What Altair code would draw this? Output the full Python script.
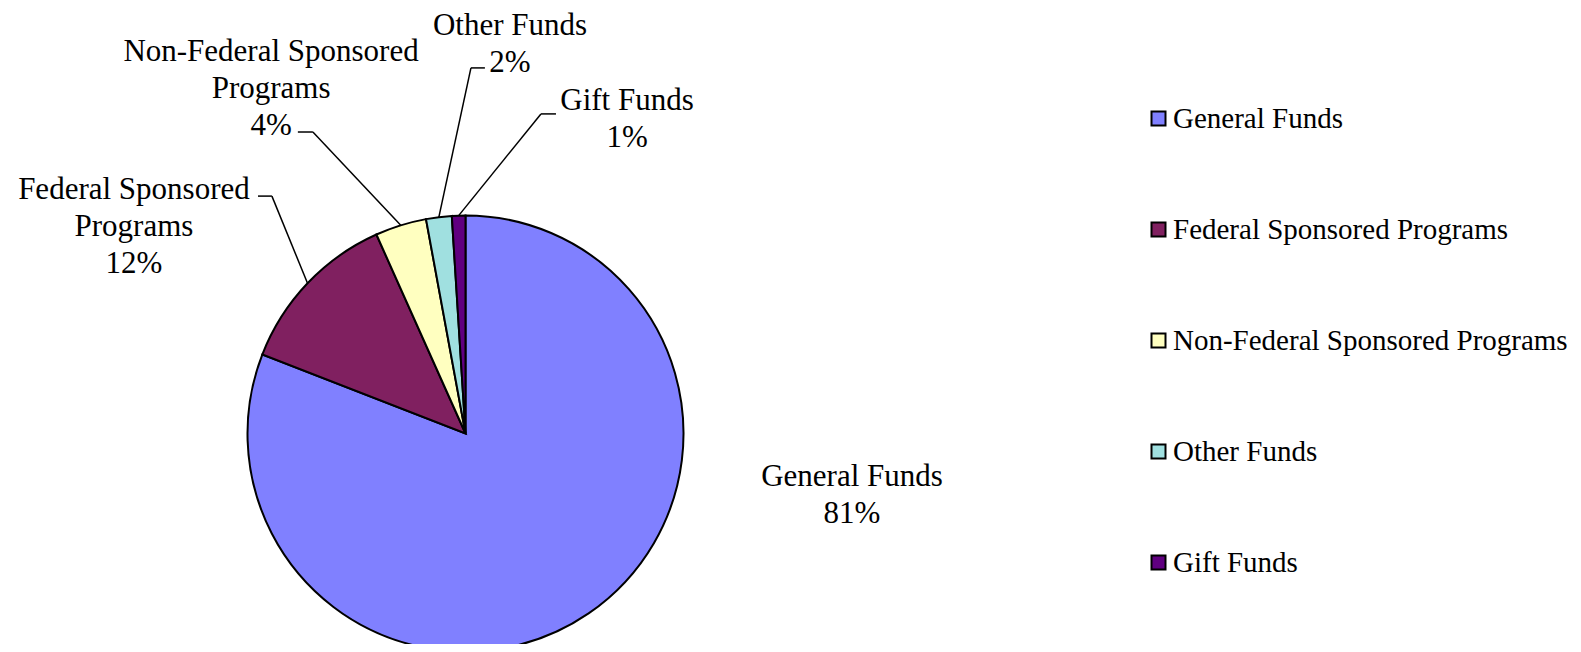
import math
import altair as alt
import pandas as pd

# ---------------- data ----------------
categories = [
    "General Funds",
    "Federal Sponsored Programs",
    "Non-Federal Sponsored Programs",
    "Other Funds",
    "Gift Funds",
]
shares = [80.9, 12.4, 3.8, 1.9, 1.0]
label_names = [
    "General Funds",
    "Federal Sponsored\nPrograms",
    "Non-Federal Sponsored\nPrograms",
    "Other Funds",
    "Gift Funds",
]
colors = ["#8080FF", "#802060", "#FFFFC0", "#A0E0E0", "#600080"]

# ---------------- layout ----------------
MARGIN = 8
W, H = 1565, 636
CX, CY, R = 465.5, 433.5, 218.0  # pie centre (page px) and radius (px)

# label first-line centres, in pie-radius units relative to the pie centre
label_pos = {
    "General Funds": (1.773, -0.1995),
    "Federal Sponsored Programs": (-1.521, 1.117),
    "Non-Federal Sponsored Programs": (-0.892, 1.750),
    "Other Funds": (0.204, 1.868),
    "Gift Funds": (0.741, 1.525),
}
# leader-line knee (x, y) and horizontal tail length, radius units
knees = {
    "Federal Sponsored Programs": (-0.888, 1.089, -0.064),
    "Non-Federal Sponsored Programs": (-0.700, 1.383, -0.069),
    "Other Funds": (0.025, 1.677, 0.064),
    "Gift Funds": (0.346, 1.466, 0.069),
}

total = sum(shares)
rows, lab_rows, seg_rows = [], [], []
cum = 0.0
for i, (cat, s, nm) in enumerate(zip(categories, shares, label_names)):
    mid = (cum + s / 2) / total * 2 * math.pi
    cum += s
    ex, ey = math.sin(mid), math.cos(mid)
    rows.append({"category": cat, "share": s, "idx": i, "cx": 0.0, "cy": 0.0})
    lx, ly = label_pos[cat]
    lab_rows.append({"x": lx, "y": ly, "label": f"{nm}\n{round(s)}%"})
    if cat in knees:
        kx, ky, tail = knees[cat]
        seg_rows.append({"x": ex, "y": ey, "x2": kx, "y2": ky})
        seg_rows.append({"x": kx, "y": ky, "x2": kx + tail, "y2": ky})

df = pd.DataFrame(rows)
lab_df = pd.DataFrame(lab_rows)
seg_df = pd.DataFrame(seg_rows)

xscale = alt.Scale(domain=[(MARGIN - CX) / R, (MARGIN + W - CX) / R], nice=False, zero=False)
yscale = alt.Scale(domain=[(CY - (MARGIN + H)) / R, (CY - MARGIN) / R], nice=False, zero=False)

leaders = alt.Chart(seg_df).mark_rule(color="black", strokeWidth=1.5).encode(
    x=alt.X("x:Q", scale=xscale, axis=None),
    y=alt.Y("y:Q", scale=yscale, axis=None),
    x2="x2:Q",
    y2="y2:Q",
)

pie = alt.Chart(df).mark_arc(radius=R, stroke="black", strokeWidth=2).encode(
    theta=alt.Theta("share:Q", stack=True),
    order=alt.Order("idx:Q", sort="ascending"),
    color=alt.Color(
        "category:N",
        scale=alt.Scale(domain=categories, range=colors),
        legend=alt.Legend(
            title=None,
            orient="none",
            legendX=1136,
            legendY=96,
            direction="vertical",
            symbolType="square",
            symbolSize=196,
            symbolStrokeColor="black",
            symbolStrokeWidth=2,
            symbolOpacity=1,
            labelFont="Liberation Serif",
            labelFontSize=29,
            labelColor="black",
            labelOffset=0,
            labelLimit=600,
            rowPadding=81,
            padding=0,
        ),
    ),
    x=alt.X("cx:Q", scale=xscale, axis=None),
    y=alt.Y("cy:Q", scale=yscale, axis=None),
)

labels = alt.Chart(lab_df).mark_text(
    font="Liberation Serif",
    fontSize=31,
    lineHeight=37,
    align="center",
    baseline="middle",
    lineBreak="\n",
    color="black",
).encode(
    x=alt.X("x:Q", scale=xscale, axis=None),
    y=alt.Y("y:Q", scale=yscale, axis=None),
    text="label:N",
)

chart = alt.layer(leaders, pie, labels).properties(
    width=W,
    height=H,
    autosize=alt.AutoSizeParams(type="none"),
    padding=0,
).configure_view(stroke=None)

chart.save("out.html", embed_options={"renderer": "svg", "actions": False})
